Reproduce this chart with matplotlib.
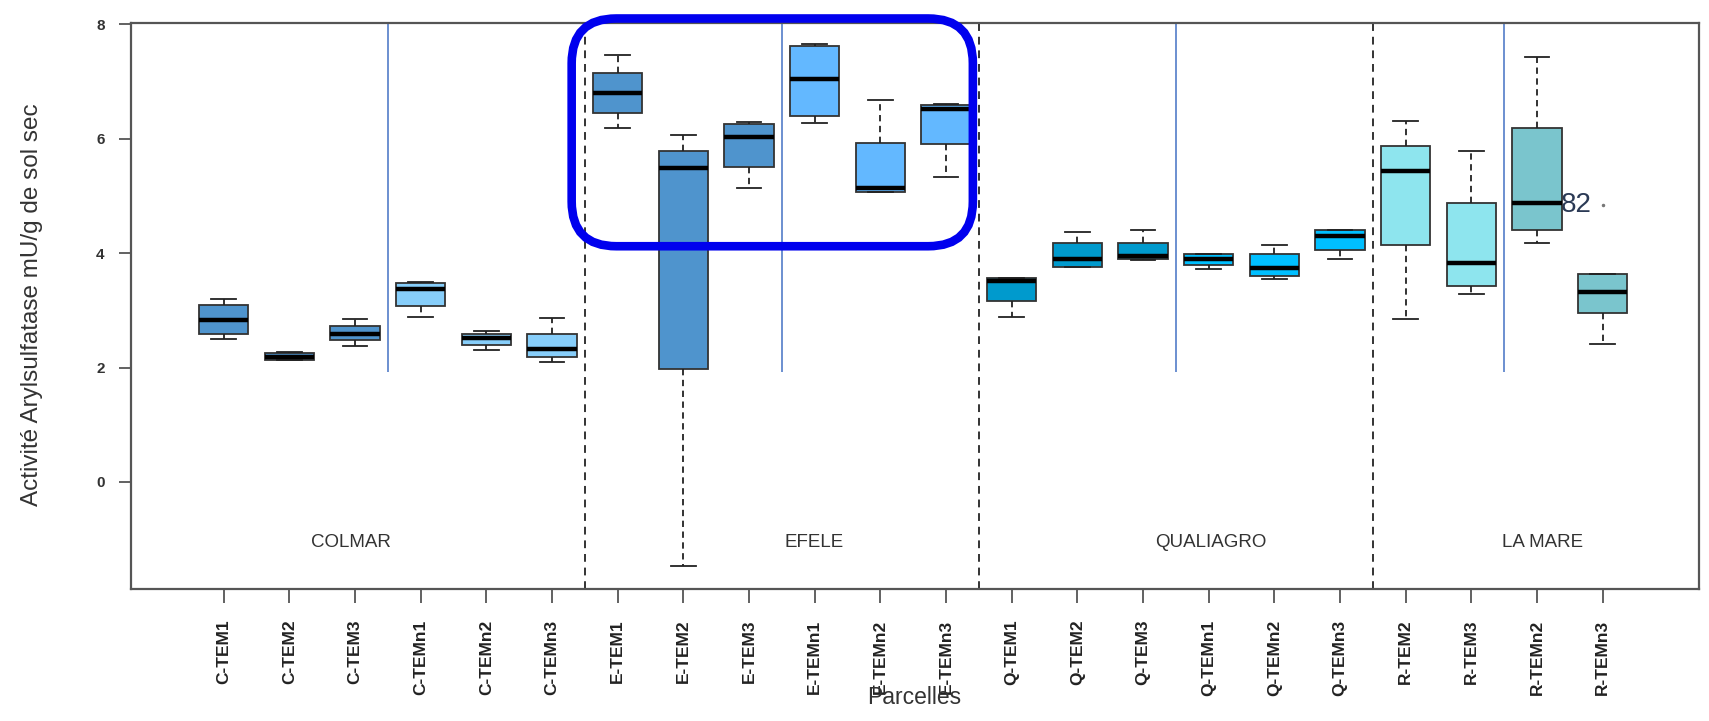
import matplotlib
matplotlib.use("Agg")
import matplotlib.pyplot as plt
from matplotlib.patches import FancyBboxPatch

plt.rcParams['font.family'] = ['Liberation Sans', 'DejaVu Sans']

# parcelles (x axis), in drawing order
labels = ['C-TEM1', 'C-TEM2', 'C-TEM3', 'C-TEMn1', 'C-TEMn2', 'C-TEMn3',
          'E-TEM1', 'E-TEM2', 'E-TEM3', 'E-TEMn1', 'E-TEMn2', 'E-TEMn3',
          'Q-TEM1', 'Q-TEM2', 'Q-TEM3', 'Q-TEMn1', 'Q-TEMn2', 'Q-TEMn3',
          'R-TEM2', 'R-TEM3', 'R-TEMn2', 'R-TEMn3']

# box statistics (mU/g de sol sec)
whislo = [2.50, 2.13, 2.38, 2.89, 2.31, 2.09,
          6.18, -1.47, 5.14, 6.28, 5.07, 5.33,
          2.88, 3.75, 3.88, 3.72, 3.54, 3.89,
          2.84, 3.29, 4.18, 2.41]
q1 = [2.58, 2.14, 2.48, 3.07, 2.39, 2.19,
      6.44, 1.98, 5.51, 6.40, 5.07, 5.90,
      3.16, 3.75, 3.89, 3.79, 3.60, 4.05,
      4.14, 3.43, 4.41, 2.95]
med = [2.83, 2.19, 2.59, 3.37, 2.51, 2.32,
       6.79, 5.48, 6.03, 7.04, 5.13, 6.51,
       3.51, 3.89, 3.95, 3.90, 3.74, 4.30,
       5.44, 3.82, 4.88, 3.32]
q3 = [3.09, 2.25, 2.72, 3.47, 2.59, 2.58,
      7.15, 5.78, 6.25, 7.62, 5.93, 6.58,
      3.57, 4.18, 4.18, 3.99, 3.98, 4.40,
      5.88, 4.88, 6.19, 3.64]
whishi = [3.20, 2.27, 2.84, 3.50, 2.63, 2.86,
          7.46, 6.06, 6.29, 7.65, 6.67, 6.61,
          3.57, 4.36, 4.41, 3.99, 4.15, 4.40,
          6.31, 5.78, 7.43, 3.64]
outliers = {'R-TEMn3': [4.84]}
outlier_label = '82'

colors = ['#4F94CD'] * 3 + ['#87CEFA'] * 3 + \
         ['#4F94CD'] * 3 + ['#63B8FF'] * 3 + \
         ['#009ACD'] * 3 + ['#00BFFF'] * 3 + \
         ['#8EE5EE'] * 2 + ['#7AC5CD'] * 2

sites = ['COLMAR', 'EFELE', 'QUALIAGRO', 'LA MARE']
site_x = [2.94, 10.0, 16.04, 21.08]
site_sep = [6.5, 12.5, 18.5]
treat_sep = [3.5, 9.5, 15.5, 20.5]

positions = list(range(1, len(labels) + 1))
stats = []
for i, lab in enumerate(labels):
    stats.append({'label': lab, 'whislo': whislo[i], 'q1': q1[i], 'med': med[i],
                  'q3': q3[i], 'whishi': whishi[i],
                  'fliers': outliers.get(lab, [])})

fig = plt.figure(figsize=(17.09, 7.21), dpi=100)
ax = fig.add_axes([0.0767, 0.1831, 0.9175, 0.7849])

bp = ax.bxp(stats, positions=positions, widths=0.75, capwidths=0.375,
            patch_artist=True, showfliers=True,
            boxprops=dict(edgecolor='#333333', linewidth=1.3),
            medianprops=dict(color='black', linewidth=3.2, solid_capstyle='butt'),
            whiskerprops=dict(color='#222222', linewidth=1.3, linestyle=(0, (3.5, 2.5))),
            capprops=dict(color='#222222', linewidth=1.3),
            flierprops=dict(marker='.', markersize=3, markerfacecolor='#777777',
                            markeredgecolor='#777777', linestyle='none'))
for patch, c in zip(bp['boxes'], colors):
    patch.set_facecolor(c)

# outlier label
ox = positions[labels.index('R-TEMn3')]
ax.annotate(outlier_label, (ox, outliers['R-TEMn3'][0]), xytext=(-19, 0),
            textcoords='offset points', ha='center', va='center',
            fontsize=20, color='#2B3A55', zorder=1)

for xs in site_sep:
    ax.axvline(xs, color='#333333', linewidth=1.4, linestyle=(0, (4, 3)), zorder=1)
ax.vlines(treat_sep, 1.93, 8.05, color='#4472C4', linewidth=1.1, zorder=1)

for name, xs in zip(sites, site_x):
    ax.text(xs, -1.05, name, ha='center', va='center', fontsize=13.5, color='#333333')

ax.set_xlim(-0.41, 23.47)
ax.set_ylim(-1.87, 8.02)
ax.set_xticks(positions)
ax.set_xticklabels(labels, rotation=90, fontsize=12.5, fontweight='bold', color='#222222',
                   va='top')
ax.set_yticks([0, 2, 4, 6, 8])
ax.set_yticklabels(['0', '2', '4', '6', '8'], fontsize=11, fontweight='bold', color='#333333')
ax.tick_params(axis='x', length=10, width=1.3, color='#555555', pad=12)
ax.tick_params(axis='y', length=9, width=1.3, color='#555555', pad=10)
for s in ax.spines.values():
    s.set_color('#555555')
    s.set_linewidth(1.6)

fig.text(31.6 / 1709, 1 - 305 / 721, 'Activité Arylsulfatase mU/g de sol sec',
         rotation=90, ha='center', va='center', fontsize=17.5, color='#333333')
fig.text(914.5 / 1709, 1 - 697 / 721, 'Parcelles', ha='center', va='center',
         fontsize=16.5, color='#333333')

# highlight box around EFELE
hl = FancyBboxPatch((6.30, 4.12), 12.41 - 6.30, 8.10 - 4.12,
                    boxstyle='round,pad=0,rounding_size=0.68', mutation_aspect=1.15,
                    facecolor='none', edgecolor='#0000EE', linewidth=6.2,
                    clip_on=False, zorder=10)
ax.add_patch(hl)

fig.savefig('out.png', dpi=100)
